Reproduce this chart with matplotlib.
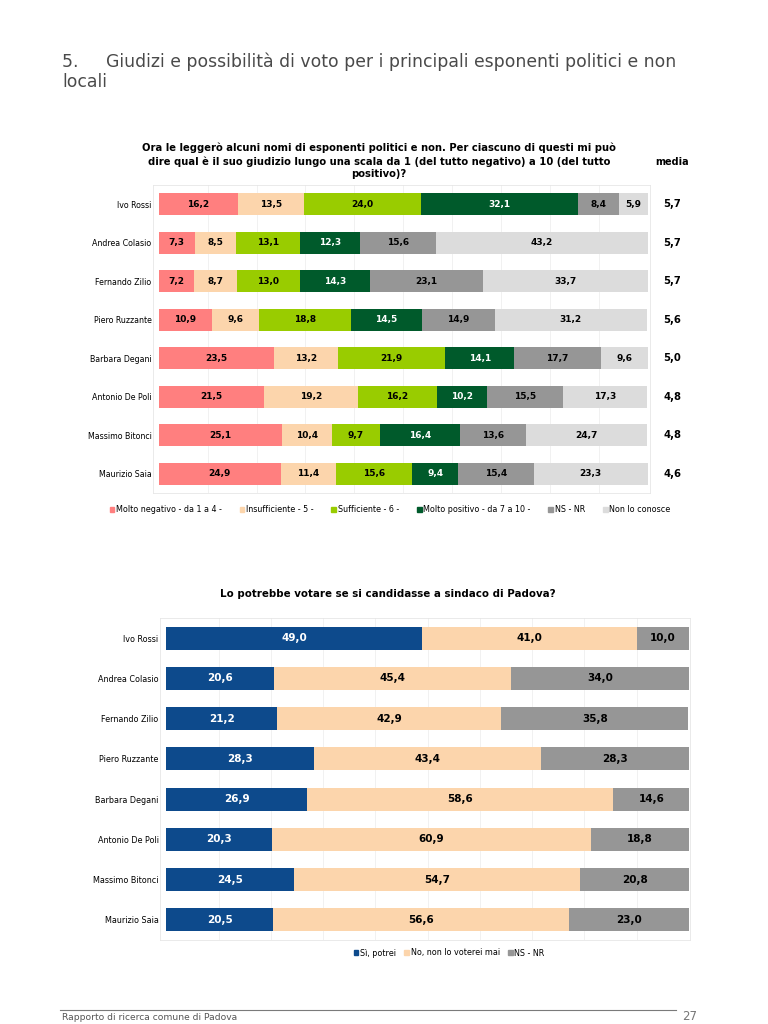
import matplotlib
matplotlib.use("Agg")
import matplotlib.pyplot as plt
import matplotlib.transforms as mtrans
from matplotlib.patches import Patch
import numpy as np

plt.rcParams['font.family'] = ['DejaVu Sans']

# ---- data ----
names = ["Ivo Rossi", "Andrea Colasio", "Fernando Zilio", "Piero Ruzzante",
         "Barbara Degani", "Antonio De Poli", "Massimo Bitonci", "Maurizio Saia"]

molto_negativo = [16.2, 7.3, 7.2, 10.9, 23.5, 21.5, 25.1, 24.9]
insufficiente = [13.5, 8.5, 8.7, 9.6, 13.2, 19.2, 10.4, 11.4]
sufficiente = [24.0, 13.1, 13.0, 18.8, 21.9, 16.2, 9.7, 15.6]
molto_positivo = [32.1, 12.3, 14.3, 14.5, 14.1, 10.2, 16.4, 9.4]
ns_nr_giudizio = [8.4, 15.6, 23.1, 14.9, 17.7, 15.5, 13.6, 15.4]
non_conosce = [5.9, 43.2, 33.7, 31.2, 9.6, 17.3, 24.7, 23.3]
media = [5.7, 5.7, 5.7, 5.6, 5.0, 4.8, 4.8, 4.6]

si_potrei = [49.0, 20.6, 21.2, 28.3, 26.9, 20.3, 24.5, 20.5]
no_mai = [41.0, 45.4, 42.9, 43.4, 58.6, 60.9, 54.7, 56.6]
ns_nr_voto = [10.0, 34.0, 35.8, 28.3, 14.6, 18.8, 20.8, 23.0]

labels_top = ["Molto negativo - da 1 a 4 -", "Insufficiente - 5 -", "Sufficiente - 6 -",
              "Molto positivo - da 7 a 10 -", "NS - NR", "Non lo conosce"]
colors_top = ["#FF7F7F", "#FCD5AC", "#99CC00", "#005A2B", "#969696", "#DCDCDC"]
text_top = ["black", "black", "black", "white", "black", "black"]

labels_bot = ["Sì, potrei", "No, non lo voterei mai", "NS - NR"]
colors_bot = ["#0D4A8C", "#FCD5AC", "#969696"]
text_bot = ["white", "black", "black"]

W, H = 768, 1024
fig = plt.figure(figsize=(7.68, 10.24), dpi=100)


def px_axes(x0, y0, x1, y1):
    return fig.add_axes([x0 / W, 1 - y1 / H, (x1 - x0) / W, (y1 - y0) / H])


def stacked(ax, series, colors, tcolors, fsize, bar_h, name_size):
    y = np.arange(len(names))
    left = np.zeros(len(names))
    for vals, c, tc in zip(series, colors, tcolors):
        vals = np.array(vals)
        ax.barh(y, vals, left=left, height=bar_h, color=c, edgecolor="none", zorder=2)
        for yi, l, v in zip(y, left, vals):
            ax.text(l + v / 2, yi, f"{v:.1f}".replace(".", ","), ha="center", va="center",
                    color=tc, fontsize=fsize, fontweight="bold", zorder=3)
        left += vals
    ax.set_ylim(len(names) - 0.5, -0.5)
    ax.set_yticks(y)
    ax.set_yticklabels(names, fontsize=name_size)
    ax.tick_params(axis="y", length=0, pad=1)
    ax.set_xticks(np.arange(10, 100, 10))
    ax.tick_params(axis="x", length=0, labelbottom=False)
    ax.grid(axis="x", color="#EFEFEF", lw=0.6, zorder=0)
    for s in ax.spines.values():
        s.set_color("#E6E6E6")
        s.set_linewidth(0.6)


# ---- page title ----
fig.text(62 / W, 1 - 62 / H, "5.     Giudizi e possibilità di voto per i principali esponenti politici e non",
         fontsize=12.4, color="#4A4A4A", va="center")
fig.text(62 / W, 1 - 82 / H, "locali", fontsize=12.4, color="#4A4A4A", va="center")

# ---- chart 1 ----
ax1 = px_axes(153, 185, 650, 493)
stacked(ax1, [molto_negativo, insufficiente, sufficiente, molto_positivo, ns_nr_giudizio, non_conosce],
        colors_top, text_top, 6.5, 0.57, 5.7)
ax1.set_xlim(-1.2, 100.5)
fig.text(379 / W, 1 - 161 / H,
         "Ora le leggerò alcuni nomi di esponenti politici e non. Per ciascuno di questi mi può\n"
         "dire qual è il suo giudizio lungo una scala da 1 (del tutto negativo) a 10 (del tutto\n"
         "positivo)?", ha="center", va="center", fontsize=7.2, fontweight="bold", linespacing=1.35)
fig.text(672 / W, 1 - 162 / H, "media", ha="center", va="center", fontsize=7, fontweight="bold")
tr = mtrans.blended_transform_factory(fig.transFigure, ax1.transData)
for i, m in enumerate(media):
    fig.text(672 / W, i, f"{m:.1f}".replace(".", ","), transform=tr,
             ha="center", va="center", fontsize=7.2, fontweight="bold")

h1 = [Patch(color=c) for c in colors_top]
fig.legend(h1, labels_top, loc="center", bbox_to_anchor=(390 / W, 1 - 510 / H), ncol=6,
           frameon=False, fontsize=5.8, handlelength=0.6, handleheight=0.6, handletextpad=0.2,
           columnspacing=2.2)

# ---- chart 2 ----
ax2 = px_axes(160, 618, 690, 940)
stacked(ax2, [si_potrei, no_mai, ns_nr_voto], colors_bot, text_bot, 7.5, 0.57, 5.8)
ax2.set_xlim(-1.2, 100.2)
fig.text(388 / W, 1 - 594 / H, "Lo potrebbe votare se si candidasse a sindaco di Padova?",
         ha="center", va="center", fontsize=7.4, fontweight="bold")
h2 = [Patch(color=c) for c in colors_bot]
fig.legend(h2, labels_bot, loc="center", bbox_to_anchor=(449 / W, 1 - 953 / H), ncol=3,
           frameon=False, fontsize=5.8, handlelength=0.6, handleheight=0.6, handletextpad=0.2,
           columnspacing=1.0)

# ---- footer ----
fig.add_artist(plt.Line2D([60 / W, 676 / W], [1 - 1010 / H, 1 - 1010 / H], color="#7A7A7A", lw=0.8))
fig.text(62 / W, 1 - 1018 / H, "Rapporto di ricerca comune di Padova", fontsize=6.6, color="#555555",
         va="center")
fig.text(690 / W, 1 - 1017 / H, "27", fontsize=8.5, color="#777777", va="center", ha="center")

fig.savefig("out.png", dpi=100, facecolor="white")
